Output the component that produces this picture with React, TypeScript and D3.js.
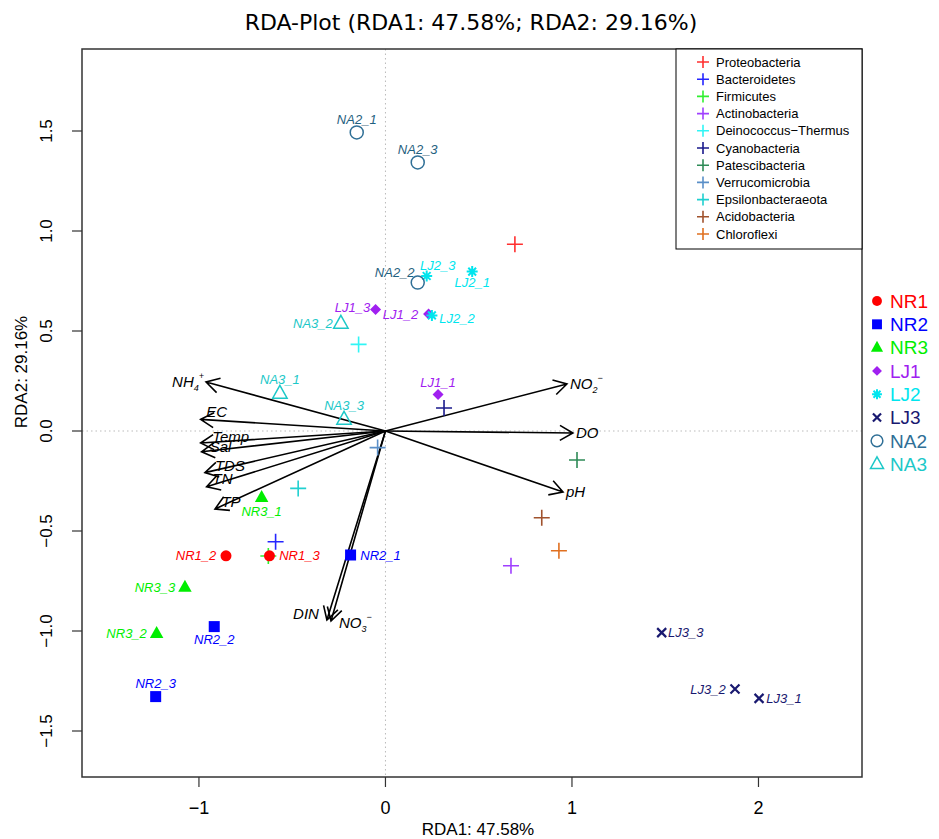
import { useEffect } from 'react';
import * as d3 from 'd3';

// site scores (sample points)
const groups = ['NR1', 'NR2', 'NR3', 'LJ1', 'LJ2', 'LJ3', 'NA2', 'NA3'];
const sampleNames = [
  'NR1_2', 'NR1_3',
  'NR2_1', 'NR2_2', 'NR2_3',
  'NR3_1', 'NR3_2', 'NR3_3',
  'LJ1_1', 'LJ1_2', 'LJ1_3',
  'LJ2_1', 'LJ2_2', 'LJ2_3',
  'LJ3_1', 'LJ3_2', 'LJ3_3',
  'NA2_1', 'NA2_2', 'NA2_3',
  'NA3_1', 'NA3_2', 'NA3_3',
];
const sampleRDA1 = [
  -0.855, -0.622,
  -0.187, -0.918, -1.232,
  -0.664, -1.227, -1.075,
  0.282, 0.231, -0.053,
  0.465, 0.249, 0.221,
  2.003, 1.874, 1.481,
  -0.154, 0.173, 0.173,
  -0.566, -0.239, -0.222,
];
const sampleRDA2 = [
  -0.624, -0.624,
  -0.62, -0.978, -1.328,
  -0.332, -1.012, -0.781,
  0.183, 0.585, 0.608,
  0.797, 0.578, 0.775,
  -1.337, -1.29, -1.008,
  1.493, 0.742, 1.343,
  0.188, 0.538, 0.058,
];

// species scores
const speciesNames = [
  'Proteobacteria', 'Bacteroidetes', 'Firmicutes', 'Actinobacteria',
  'Deinococcus-Thermus', 'Cyanobacteria', 'Patescibacteria', 'Verrucomicrobia',
  'Epsilonbacteraeota', 'Acidobacteria', 'Chloroflexi',
];
const speciesRDA1 = [0.694, -0.589, -0.628, 0.673, -0.144, 0.314, 1.027, -0.042, -0.468, 0.838, 0.93];
const speciesRDA2 = [0.934, -0.554, -0.625, -0.674, 0.433, 0.115, -0.145, -0.083, -0.287, -0.434, -0.599];

// environmental vectors
const envNames = ['NH4+', 'EC', 'Temp', 'Sal', 'TDS', 'TN', 'TP', 'NO2-', 'DO', 'pH', 'DIN', 'NO3-'];
const envRDA1 = [-0.962, -0.991, -0.991, -0.986, -0.968, -0.959, -0.914, 0.973, 1.005, 0.952, -0.314, -0.292];
const envRDA2 = [0.245, 0.058, -0.06, -0.104, -0.208, -0.279, -0.39, 0.235, -0.01, -0.305, -0.945, -0.95];

const xTicks = [-1, 0, 1, 2];
const yTicks = [-1.5, -1.0, -0.5, 0.0, 0.5, 1.0, 1.5];

const groupColor: Record<string, string> = {
  NR1: '#ff0000', NR2: '#0000ff', NR3: '#00ee00', LJ1: '#a020f0',
  LJ2: '#00e5ee', LJ3: '#191970', NA2: '#2f6f96', NA3: '#1cc8c8',
};
const groupShape: Record<string, string> = {
  NR1: 'circle', NR2: 'square', NR3: 'triangle', LJ1: 'diamond',
  LJ2: 'asterisk', LJ3: 'cross', NA2: 'ocircle', NA3: 'otriangle',
};
const speciesColor = [
  '#ff3030', '#2525ff', '#30f030', '#a040ff', '#30f5f5', '#1a1a8c',
  '#2e8b57', '#5a8fc8', '#20d0d0', '#a0522d', '#e07020',
];

// label offsets (px) relative to the point
const sampleLabelOffset: Record<string, [number, number]> = {
  NR1_2: [-30, 0], NR1_3: [30, 0], NR2_1: [30, 0], NR2_2: [0, 13], NR2_3: [0, -13],
  NR3_1: [0, 14], NR3_2: [-30, 0], NR3_3: [-30, 0],
  LJ1_1: [0, -12], LJ1_2: [-28, 0], LJ1_3: [-23, -2],
  LJ2_1: [0, 11], LJ2_2: [25, 3], LJ2_3: [11, -11],
  LJ3_1: [25, 0], LJ3_2: [-27, 0], LJ3_3: [24, 0],
  NA2_1: [0, -13], NA2_2: [-23, -10], NA2_3: [0, -13],
  NA3_1: [0, -14], NA3_2: [-28, 0], NA3_3: [0, -14],
};
const envLabelOffset: Record<string, [number, number, string]> = {
  'NH4+': [-2, 0, 'end'], EC: [16, -8, 'middle'], Temp: [30, -6, 'middle'], Sal: [19, -5, 'middle'],
  TDS: [25, -7, 'middle'], TN: [16, -8, 'middle'], TP: [16, -7, 'middle'],
  'NO2-': [3, 0, 'start'], DO: [3, 0, 'start'], pH: [3, 0, 'start'],
  DIN: [-8, -6, 'end'], 'NO3-': [8, 2, 'start'],
};

const W = 939;
const H = 839;
const left = 82, right = 862, top = 49, bottom = 777;

function Marker({ shape, cx, cy, color, s = 1 }: { shape: string; cx: number; cy: number; color: string; s?: number }) {
  switch (shape) {
    case 'circle':
      return <circle cx={cx} cy={cy} r={5.5 * s} fill={color} />;
    case 'square':
      return <rect x={cx - 5.5 * s} y={cy - 5.5 * s} width={11 * s} height={11 * s} fill={color} />;
    case 'triangle': {
      const r = 7.5 * s;
      return <path d={`M${cx},${cy - r}L${cx + r * 0.9},${cy + r * 0.6}L${cx - r * 0.9},${cy + r * 0.6}Z`} fill={color} />;
    }
    case 'diamond': {
      const r = 5.5 * s;
      return <path d={`M${cx},${cy - r}L${cx + r},${cy}L${cx},${cy + r}L${cx - r},${cy}Z`} fill={color} />;
    }
    case 'asterisk': {
      const r = 5.5 * s;
      const d = [0, 45, 90, 135].map(a => {
        const t = (a * Math.PI) / 180;
        return `M${cx - r * Math.cos(t)},${cy - r * Math.sin(t)}L${cx + r * Math.cos(t)},${cy + r * Math.sin(t)}`;
      }).join('');
      return <path d={d} stroke={color} strokeWidth={2} fill="none" />;
    }
    case 'cross': {
      const r = 4.5 * s;
      return <path d={`M${cx - r},${cy - r}L${cx + r},${cy + r}M${cx - r},${cy + r}L${cx + r},${cy - r}`} stroke={color} strokeWidth={2.2} fill="none" />;
    }
    case 'ocircle':
      return <circle cx={cx} cy={cy} r={6.5 * s} fill="none" stroke={color} strokeWidth={1.5} />;
    case 'otriangle': {
      const r = 8 * s;
      return <path d={`M${cx},${cy - r}L${cx + r * 0.9},${cy + r * 0.6}L${cx - r * 0.9},${cy + r * 0.6}Z`} fill="none" stroke={color} strokeWidth={1.5} />;
    }
    default:
      return null;
  }
}

function Plus({ cx, cy, color, r }: { cx: number; cy: number; color: string; r: number }) {
  return <path d={`M${cx - r},${cy}L${cx + r},${cy}M${cx},${cy - r}L${cx},${cy + r}`} stroke={color} strokeWidth={1.6} fill="none" />;
}

function EnvLabel({ name, x, y, anchor }: { name: string; x: number; y: number; anchor: string }) {
  const m = name.match(/^(NH|NO)(\d)([+-])$/);
  if (m) {
    return (
      <text x={x} y={y} dy="0.35em" textAnchor={anchor} fontStyle="italic" fontSize={15}>
        {m[1]}
        <tspan fontSize={9} dy={4}>{m[2]}</tspan>
        <tspan fontSize={9} dy={-12}>{m[3] === '-' ? '\u2212' : '+'}</tspan>
      </text>
    );
  }
  return (
    <text x={x} y={y} dy="0.35em" textAnchor={anchor} fontStyle="italic" fontSize={15}>
      {name}
    </text>
  );
}

export default function App() {
  useEffect(() => {
    document.body.style.margin = '0';
  }, []);

  const x = d3.scaleLinear().domain([-1.627, 2.555]).range([left, right]);
  const y = d3.scaleLinear().domain([-1.73, (431 - top) / 200]).range([bottom, top]);
  const x0 = x(0), y0 = y(0);

  const headLen = 15;
  const headAng = Math.PI / 6;

  return (
    <svg width={W} height={H} style={{ display: 'block', fontFamily: '"Liberation Sans", Arial, sans-serif' }}>
      <rect width={W} height={H} fill="#fff" />
      <text x={471} y={30} textAnchor="middle" fontSize={22} fontFamily='"DejaVu Sans", sans-serif'>
        RDA-Plot (RDA1: 47.58%; RDA2: 29.16%)
      </text>

      {/* zero lines */}
      <line x1={x0} x2={x0} y1={top} y2={bottom} stroke="#bbb" strokeDasharray="1.5,3" />
      <line x1={left} x2={right} y1={y0} y2={y0} stroke="#bbb" strokeDasharray="1.5,3" />

      {/* env arrows */}
      {envNames.map((n, i) => {
        const ex = x(envRDA1[i]), ey = y(envRDA2[i]);
        const a = Math.atan2(ey - y0, ex - x0);
        const h1 = [ex - headLen * Math.cos(a - headAng), ey - headLen * Math.sin(a - headAng)];
        const h2 = [ex - headLen * Math.cos(a + headAng), ey - headLen * Math.sin(a + headAng)];
        return (
          <path key={n} d={`M${x0},${y0}L${ex},${ey}M${h1[0]},${h1[1]}L${ex},${ey}L${h2[0]},${h2[1]}`}
            stroke="#000" strokeWidth={1.6} fill="none" />
        );
      })}
      {envNames.map((n, i) => {
        const [dx, dy, anchor] = envLabelOffset[n];
        return <EnvLabel key={n} name={n} x={x(envRDA1[i]) + dx} y={y(envRDA2[i]) + dy} anchor={anchor} />;
      })}

      {/* species */}
      {speciesNames.map((n, i) => (
        <Plus key={n} cx={x(speciesRDA1[i])} cy={y(speciesRDA2[i])} color={speciesColor[i]} r={8} />
      ))}

      {/* samples */}
      {sampleNames.map((n, i) => {
        const g = n.slice(0, 3);
        return <Marker key={n} shape={groupShape[g]} cx={x(sampleRDA1[i])} cy={y(sampleRDA2[i])} color={groupColor[g]} />;
      })}
      {sampleNames.map((n, i) => {
        const g = n.slice(0, 3);
        const [dx, dy] = sampleLabelOffset[n];
        return (
          <text key={n} x={x(sampleRDA1[i]) + dx} y={y(sampleRDA2[i]) + dy} dy="0.35em" textAnchor="middle"
            fontStyle="italic" fontSize={13} fill={g === 'NA2' ? '#1f6180' : groupColor[g]}>
            {n}
          </text>
        );
      })}

      {/* frame */}
      <rect x={left} y={top} width={right - left} height={bottom - top} fill="none" stroke="#333" strokeWidth={1.5} />

      {/* x axis */}
      {xTicks.map(t => (
        <g key={t}>
          <line x1={x(t)} x2={x(t)} y1={bottom} y2={bottom + 10} stroke="#333" strokeWidth={1.2} />
          <text x={x(t)} y={814} textAnchor="middle" fontSize={18} fontFamily='"Liberation Sans Narrow", "Liberation Sans", sans-serif'>
            {t < 0 ? `\u2212${Math.abs(t)}` : t}
          </text>
        </g>
      ))}
      <text x={478} y={835} textAnchor="middle" fontSize={17} fontFamily='"Liberation Sans Narrow", "Liberation Sans", sans-serif'>
        RDA1: 47.58%
      </text>

      {/* y axis */}
      {yTicks.map(t => (
        <g key={t}>
          <line x1={left - 10} x2={left} y1={y(t)} y2={y(t)} stroke="#333" strokeWidth={1.2} />
          <text transform={`translate(${52},${y(t)}) rotate(-90)`} textAnchor="middle" fontSize={17}>
            {t < 0 ? `\u2212${Math.abs(t).toFixed(1)}` : t.toFixed(1)}
          </text>
        </g>
      ))}
      <text transform={`translate(${27},${372}) rotate(-90)`} textAnchor="middle" fontSize={17}>
        RDA2: 29.16%
      </text>

      {/* species legend */}
      <rect x={676} y={top} width={right - 676} height={200} fill="#fff" stroke="#000" strokeWidth={1} />
      {speciesNames.map((n, i) => (
        <g key={n}>
          <Plus cx={703} cy={62 + i * 17.2} color={speciesColor[i]} r={6} />
          <text x={716} y={62 + i * 17.2} dy="0.35em" fontSize={13}>{n.replace('-', '\u2212')}</text>
        </g>
      ))}

      {/* group legend */}
      {groups.map((g, i) => (
        <g key={g}>
          <Marker shape={groupShape[g]} cx={877} cy={301 + i * 23.3} color={groupColor[g]} s={0.9} />
          <text x={890} y={301 + i * 23.3} dy="0.36em" fontSize={19} fill={groupColor[g]}>{g}</text>
        </g>
      ))}
    </svg>
  );
}
